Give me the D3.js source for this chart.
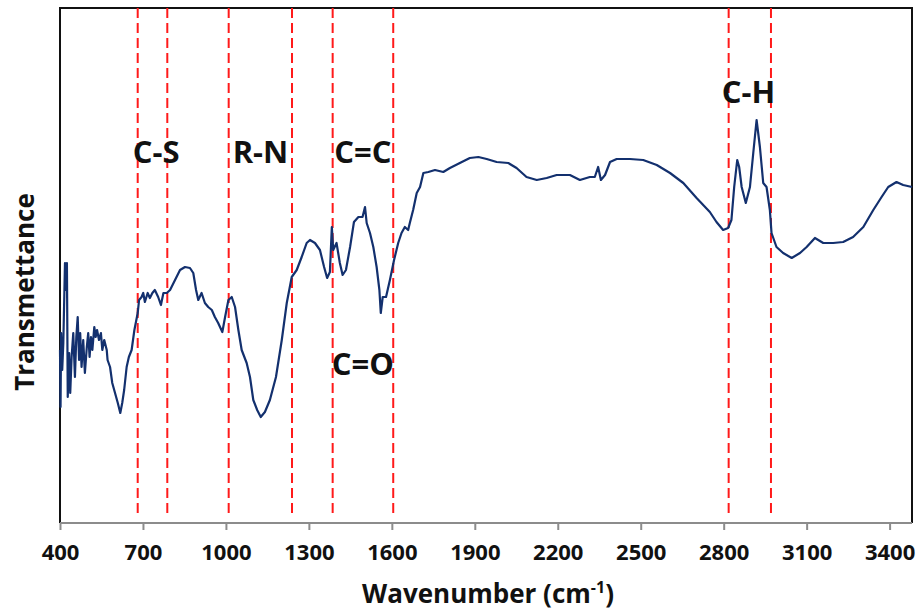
<!DOCTYPE html>
<html>
<head>
<meta charset="utf-8">
<script src="https://cdn.jsdelivr.net/npm/d3@7"></script>
<style>
  body { margin: 0; background: #fff; }
  text { font-family: "Open Sans", "DejaVu Sans", sans-serif; font-weight: bold; }
</style>
</head>
<body>
<div id="chart"></div>
<script>
// FTIR spectrum (transmittance in arbitrary units)
const wavenumber = [400, 402, 404, 408, 412, 418, 422, 425, 428, 433, 437, 442, 448, 454, 459, 464, 469, 473, 478, 484,
  490, 497, 502, 507, 512, 517, 524, 529, 534, 541, 548, 553, 560, 569, 572, 581, 589, 599, 609, 618,
  625, 632, 641, 649, 659, 669, 681, 686, 695, 701, 707, 717, 725, 734, 743, 755, 765, 774, 786, 798,
  816, 834, 852, 870, 882, 892, 900, 912, 924, 936, 949, 960, 972, 987, 997, 1009, 1021, 1033, 1045, 1057,
  1075, 1087, 1099, 1113, 1126, 1141, 1159, 1181, 1202, 1220, 1238, 1256, 1274, 1292, 1304, 1322, 1340, 1355, 1366, 1376,
  1383, 1388, 1400, 1412, 1422, 1434, 1449, 1463, 1479, 1494, 1503, 1509, 1521, 1533, 1545, 1555, 1560, 1567, 1579, 1593,
  1608, 1623, 1635, 1647, 1659, 1665, 1677, 1690, 1702, 1714, 1732, 1756, 1786, 1810, 1846, 1882, 1913, 1943, 1979, 2021,
  2051, 2087, 2124, 2160, 2196, 2244, 2280, 2316, 2334, 2346, 2356, 2371, 2389, 2413, 2461, 2509, 2558, 2606, 2654, 2702,
  2750, 2774, 2798, 2816, 2828, 2838, 2849, 2856, 2865, 2880, 2895, 2907, 2919, 2931, 2943, 2955, 2967, 2973, 2991, 3015,
  3046, 3076, 3100, 3130, 3160, 3196, 3232, 3268, 3305, 3341, 3371, 3395, 3425, 3449, 3481];
const transmittance = [173, 116, 190, 153, 180, 260, 233, 260, 126, 170, 130, 166, 190, 146, 186, 206, 163, 190, 156, 183,
  150, 176, 190, 166, 186, 173, 196, 186, 193, 183, 190, 173, 183, 173, 163, 156, 140, 130, 120, 110,
  120, 133, 156, 166, 173, 193, 210, 223, 226, 230, 221, 230, 225, 230, 233, 226, 218, 230, 230, 233,
  243, 253, 256, 255, 250, 233, 223, 230, 220, 216, 213, 206, 200, 191, 206, 223, 226, 216, 193, 173,
  160, 146, 123, 113, 106, 111, 123, 146, 183, 220, 246, 253, 266, 280, 283, 280, 273, 256, 245, 251,
  296, 273, 280, 260, 248, 253, 276, 301, 306, 306, 316, 300, 290, 276, 256, 233, 210, 226, 226, 243,
  263, 280, 290, 296, 293, 300, 313, 330, 336, 350, 351, 353, 351, 355, 360, 365, 366, 364, 361, 360,
  355, 346, 343, 345, 348, 348, 343, 346, 346, 356, 343, 348, 361, 364, 364, 363, 358, 350, 340, 325,
  311, 301, 293, 295, 303, 336, 363, 356, 336, 320, 336, 370, 403, 376, 340, 336, 313, 290, 276, 270,
  265, 270, 276, 285, 280, 280, 281, 286, 296, 313, 326, 336, 341, 338, 336];

// band markers and their labels
const bandLines = [681, 788, 1010, 1239, 1386, 1605, 2818, 2971];
const bandLabels = ["C-S", "R-N", "C=C", "C=O", "C-H"];
const bandLabelWn = [748, 1125, 1495, 1495, 2890];
const bandLabelLevel = [360, 360, 360, 148, 420];

const xTicks = [400, 700, 1000, 1300, 1600, 1900, 2200, 2500, 2800, 3100, 3400];

const W = 917, H = 613;
const mLeft = 60, mRight = 912, mTop = 8, mBottom = 523;

const svg = d3.select("#chart").append("svg")
  .attr("width", W).attr("height", H);

const x = d3.scaleLinear().domain([400, 3481]).range([mLeft, mRight]);
const y = d3.scaleLinear().domain([0, 515]).range([mBottom, mTop]);

// plot frame (black left/top/right)
svg.append("path")
  .attr("d", `M${mLeft},${mBottom}V${mTop}H${mRight}V${mBottom}`)
  .attr("fill", "none").attr("stroke", "#111").attr("stroke-width", 2);

// red dashed band lines
svg.selectAll(".band")
  .data(bandLines)
  .enter().append("line")
  .attr("class", "band")
  .attr("x1", d => x(d)).attr("x2", d => x(d))
  .attr("y1", mTop).attr("y2", mBottom - 6)
  .attr("stroke", "#ff1a1a")
  .attr("stroke-width", 2)
  .attr("stroke-dasharray", "10,5");

// spectrum
const pts = wavenumber.map((w, i) => [w, transmittance[i]]);
svg.append("path")
  .datum(pts)
  .attr("fill", "none")
  .attr("stroke", "#13306e")
  .attr("stroke-width", 2.2)
  .attr("stroke-linejoin", "round")
  .attr("d", d3.line().x(d => x(d[0])).y(d => y(d[1])));

// x axis
const xAxis = svg.append("g")
  .attr("transform", `translate(0,${mBottom})`)
  .call(d3.axisBottom(x).tickValues(xTicks).tickFormat(d3.format("d"))
    .tickSize(7).tickSizeOuter(0).tickPadding(14));
xAxis.select(".domain").attr("stroke", "#8c8c8c").attr("stroke-width", 2)
  .attr("d", `M${mLeft},0H${mRight}`);
xAxis.selectAll(".tick line").attr("stroke", "#8c8c8c").attr("stroke-width", 2);
xAxis.selectAll(".tick text")
  .attr("font-size", 22).attr("font-weight", "bold")
  .attr("font-family", "'Open Sans', sans-serif")
  .attr("fill", "#111");

// axis titles
const xt = svg.append("text")
  .attr("x", 488).attr("y", 603)
  .attr("text-anchor", "middle")
  .attr("font-size", 26).attr("fill", "#111");
xt.append("tspan").text("Wavenumber (cm");
xt.append("tspan").attr("font-size", 16).attr("dy", -10).text("-1");
xt.append("tspan").attr("dy", 10).text(")");

svg.append("text")
  .attr("transform", "translate(34,292) rotate(-90)")
  .attr("text-anchor", "middle")
  .attr("font-size", 26).attr("fill", "#111")
  .text("Transmettance");

// band labels
svg.selectAll(".blabel")
  .data(bandLabels)
  .enter().append("text")
  .attr("class", "blabel")
  .attr("x", (d, i) => x(bandLabelWn[i]))
  .attr("y", (d, i) => y(bandLabelLevel[i]))
  .attr("text-anchor", "middle")
  .attr("font-size", 31)
  .attr("fill", "#111")
  .text(d => d);
</script>
</body>
</html>
